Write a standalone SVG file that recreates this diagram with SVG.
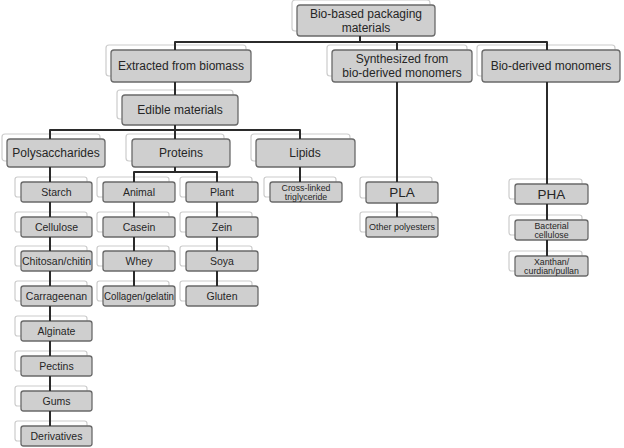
<svg xmlns="http://www.w3.org/2000/svg" width="624" height="448" viewBox="0 0 624 448">
<style>
.back{fill:#fff;stroke:#cccccc;stroke-width:1.2}
.box{fill:#cfcfcf;stroke:#6a6a6a;stroke-width:1.3}
text{font-family:"Liberation Sans",Arial,sans-serif;fill:#262626;text-anchor:middle;dominant-baseline:central}
.t12{font-size:12px}
.t13{font-size:13.5px}
.t10{font-size:10.5px}
.t9{font-size:9px}
.t8{font-size:8.8px}
.conn path{fill:none;stroke:#2b2b2b;stroke-width:2;stroke-linejoin:round}
</style>
<g id="root">
<rect class="back" x="292" y="0" width="138" height="31" rx="3"/>
<rect class="box" x="297" y="5" width="138" height="31" rx="3"/>
<text class="t12" x="366" y="14">Bio-based packaging</text>
<text class="t12" x="366" y="28">materials</text>
</g>
<g id="extracted">
<rect class="back" x="106" y="45" width="140" height="31" rx="3"/>
<rect class="box" x="111" y="50" width="140" height="32" rx="3"/>
<text class="t12" x="181" y="66">Extracted from biomass</text>
</g>
<g id="synthesized">
<rect class="back" x="327" y="45" width="140" height="31" rx="3"/>
<rect class="box" x="332" y="50" width="140" height="32" rx="3"/>
<text class="t12" x="402" y="59">Synthesized from</text>
<text class="t12" x="402" y="73">bio-derived monomers</text>
</g>
<g id="bioderived">
<rect class="back" x="477" y="45" width="138" height="31" rx="3"/>
<rect class="box" x="482" y="50" width="138" height="32" rx="3"/>
<text class="t12" x="551" y="66">Bio-derived monomers</text>
</g>
<g id="edible">
<rect class="back" x="117" y="90" width="116" height="29" rx="3"/>
<rect class="box" x="122" y="95" width="116" height="30" rx="3"/>
<text class="t12" x="180" y="110">Edible materials</text>
</g>
<g id="polysaccharides">
<rect class="back" x="2" y="134" width="98" height="27" rx="3"/>
<rect class="box" x="7" y="139" width="98" height="28" rx="3"/>
<text class="t12" x="56" y="153">Polysaccharides</text>
</g>
<g id="proteins">
<rect class="back" x="126" y="134" width="98" height="27" rx="3"/>
<rect class="box" x="132" y="139" width="98" height="28" rx="3"/>
<text class="t12" x="181" y="153">Proteins</text>
</g>
<g id="lipids">
<rect class="back" x="251" y="134" width="99" height="27" rx="3"/>
<rect class="box" x="256" y="139" width="99" height="28" rx="3"/>
<text class="t12" x="305" y="153">Lipids</text>
</g>
<g id="starch"><rect class="back" x="15" y="177" width="72" height="20" rx="2.5"/><rect class="box" x="21" y="182" width="71" height="20" rx="2.5"/><text class="t10" x="56.5" y="192">Starch</text></g>
<g id="cellulose"><rect class="back" x="15" y="212" width="72" height="20" rx="2.5"/><rect class="box" x="21" y="217" width="71" height="20" rx="2.5"/><text class="t10" x="56.5" y="227">Cellulose</text></g>
<g id="chitosan"><rect class="back" x="15" y="246" width="72" height="20" rx="2.5"/><rect class="box" x="21" y="251" width="71" height="20" rx="2.5"/><text class="t10" x="56.5" y="261" textLength="69" lengthAdjust="spacingAndGlyphs">Chitosan/chitin</text></g>
<g id="carrageenan"><rect class="back" x="15" y="281" width="72" height="20" rx="2.5"/><rect class="box" x="21" y="286" width="71" height="20" rx="2.5"/><text class="t10" x="56.5" y="296">Carrageenan</text></g>
<g id="alginate"><rect class="back" x="15" y="316" width="72" height="20" rx="2.5"/><rect class="box" x="21" y="321" width="71" height="20" rx="2.5"/><text class="t10" x="56.5" y="331">Alginate</text></g>
<g id="pectins"><rect class="back" x="15" y="351" width="72" height="20" rx="2.5"/><rect class="box" x="21" y="356" width="71" height="20" rx="2.5"/><text class="t10" x="56.5" y="366">Pectins</text></g>
<g id="gums"><rect class="back" x="15" y="386" width="72" height="20" rx="2.5"/><rect class="box" x="21" y="391" width="71" height="20" rx="2.5"/><text class="t10" x="56.5" y="401">Gums</text></g>
<g id="derivatives"><rect class="back" x="15" y="421" width="72" height="20" rx="2.5"/><rect class="box" x="21" y="426" width="71" height="20" rx="2.5"/><text class="t10" x="56.5" y="436">Derivatives</text></g>
<g id="animal"><rect class="back" x="97" y="177" width="72" height="20" rx="2.5"/><rect class="box" x="103" y="182" width="72" height="20" rx="2.5"/><text class="t10" x="139" y="192">Animal</text></g>
<g id="casein"><rect class="back" x="97" y="212" width="72" height="20" rx="2.5"/><rect class="box" x="103" y="217" width="72" height="20" rx="2.5"/><text class="t10" x="139" y="227">Casein</text></g>
<g id="whey"><rect class="back" x="97" y="246" width="72" height="20" rx="2.5"/><rect class="box" x="103" y="251" width="72" height="20" rx="2.5"/><text class="t10" x="139" y="261">Whey</text></g>
<g id="collagen"><rect class="back" x="97" y="281" width="72" height="20" rx="2.5"/><rect class="box" x="103" y="286" width="72" height="20" rx="2.5"/><text class="t10" x="139" y="296" textLength="70" lengthAdjust="spacingAndGlyphs">Collagen/gelatin</text></g>
<g id="plant"><rect class="back" x="180" y="177" width="72" height="20" rx="2.5"/><rect class="box" x="186" y="182" width="72" height="20" rx="2.5"/><text class="t10" x="222" y="192">Plant</text></g>
<g id="zein"><rect class="back" x="180" y="212" width="72" height="20" rx="2.5"/><rect class="box" x="186" y="217" width="72" height="20" rx="2.5"/><text class="t10" x="222" y="227">Zein</text></g>
<g id="soya"><rect class="back" x="180" y="246" width="72" height="20" rx="2.5"/><rect class="box" x="186" y="251" width="72" height="20" rx="2.5"/><text class="t10" x="222" y="261">Soya</text></g>
<g id="gluten"><rect class="back" x="180" y="281" width="72" height="20" rx="2.5"/><rect class="box" x="186" y="286" width="72" height="20" rx="2.5"/><text class="t10" x="222" y="296">Gluten</text></g>
<g id="crosslinked"><rect class="back" x="264" y="177" width="72" height="20" rx="2.5"/><rect class="box" x="270" y="182" width="72" height="20" rx="2.5"/><text class="t8" x="306" y="187.5">Cross-linked</text><text class="t8" x="306" y="196.5">triglyceride</text></g>
<g id="pla"><rect class="back" x="360" y="177" width="72" height="21" rx="2.5"/><rect class="box" x="366" y="182" width="72" height="21" rx="2.5"/><text class="t13" x="402" y="192.5">PLA</text></g>
<g id="otherpoly"><rect class="back" x="360" y="212" width="72" height="20" rx="2.5"/><rect class="box" x="366" y="217" width="72" height="20" rx="2.5"/><text class="t9" x="402" y="227">Other polyesters</text></g>
<g id="pha"><rect class="back" x="509" y="179" width="73" height="20" rx="2.5"/><rect class="box" x="515" y="184" width="73" height="20" rx="2.5"/><text class="t13" x="551.5" y="194">PHA</text></g>
<g id="bacterial"><rect class="back" x="509" y="215" width="73" height="20" rx="2.5"/><rect class="box" x="515" y="220" width="73" height="20" rx="2.5"/><text class="t8" x="551.5" y="225.5">Bacterial</text><text class="t8" x="551.5" y="234.5">cellulose</text></g>
<g id="xanthan"><rect class="back" x="509" y="251" width="73" height="20" rx="2.5"/><rect class="box" x="515" y="256" width="73" height="20" rx="2.5"/><text class="t8" x="551.5" y="261.5">Xanthan/</text><text class="t8" x="551.5" y="270.5">curdian/pullan</text></g>
<g class="conn" id="connectors">
<path d="M360 36V42"/>
<path d="M175 50V42H547V50"/>
<path d="M397 42V50"/>
<path d="M175 82V95"/>
<path d="M175 125V139"/>
<path d="M50 139V130H300V139"/>
<path d="M50 167V182M50 202V217M50 237V251M50 271V286M50 306V321M50 341V356M50 376V391M50 411V426"/>
<path d="M175 167V172"/>
<path d="M134 182V172H217V182"/>
<path d="M134 202V217M134 237V251M134 271V286"/>
<path d="M217 202V217M217 237V251M217 271V286"/>
<path d="M300 167V182"/>
<path d="M397 82V182M397 203V217"/>
<path d="M547 82V184M547 204V220M547 240V256"/>
</g>
</svg>
